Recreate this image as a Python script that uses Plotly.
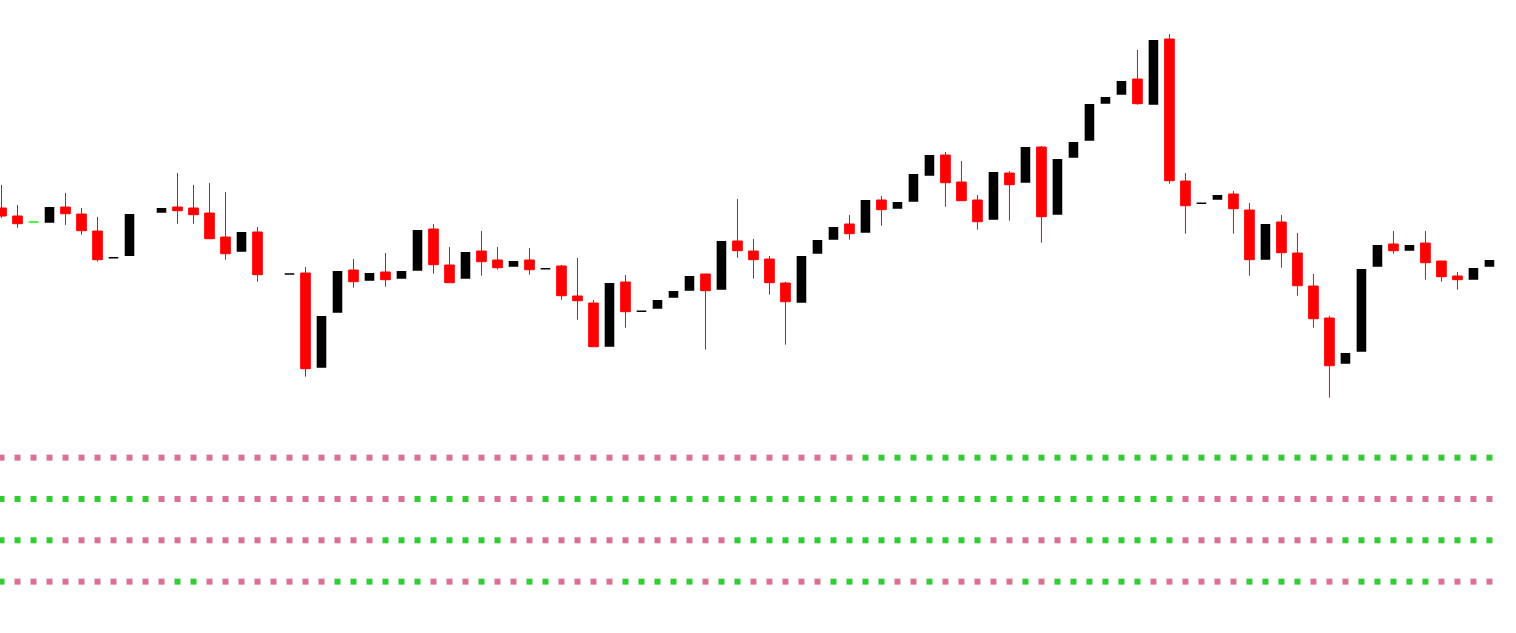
import plotly.graph_objects as go

# bar index and OHLC (None = empty slot)
bar_index = list(range(94))

opens = [
    792, 784, 778, 777.3, 793, 786, 769, 742.2, 744, None,
    787.3, 793, 792, 787, 763, 748.3, 768, None, 726, 727,
    632.3, 687.3, 730, 719.3, 728, 721.3, 729.3, 771, 735, 721.3,
    749, 740, 733.3, 740, 731.2, 734, 704, 697, 653.3, 718,
    688.7, 691.3, 702.3, 709.3, 726, 710.3, 759, 749, 741, 717,
    697.3, 746.3, 760.3, 776, 767.3, 800, 791.3, 798.3, 824.3, 845,
    818, 800, 780.3, 827, 817.3, 853, 785.3, 842.3, 859.3, 896.3,
    905.3, 921, 895.3, 961, 819, 796.7, 800.3, 806, 790, 740.3,
    778, 747, 714, 682, 636.3, 648.3, 733.3, 756, 749.3, 757,
    739, 724, 720.3, 733.3,
]
highs = [
    815, 795, 778, 793, 807, 792, 783, 742.2, 786, None,
    792, 827, 815, 817, 808, 768, 773, None, 726, 733,
    684, 729, 741, 727, 747, 729, 770, 776, 753, 748,
    769, 753, 739, 752, 731.2, 735, 742, 700, 717, 725,
    688.7, 700, 709, 724, 726, 759, 801, 761, 744, 718.3,
    744, 760, 773, 785, 800, 804, 798, 826, 845, 848,
    839, 805, 828, 829, 853, 854, 841, 858, 896, 903,
    919, 950, 960, 966, 827, 796.7, 805, 809, 797, 776,
    785, 767, 726, 684.3, 647, 731, 755, 769, 755, 769,
    739, 728, 732, 740,
]
lows = [
    782, 772.3, 778, 777.3, 775, 765.3, 738.3, 742.2, 744, None,
    787.3, 776.3, 776.3, 761.3, 740.3, 748.3, 718.3, None, 726, 623.3,
    632.3, 687.3, 712.3, 719.3, 713.3, 721.3, 729.3, 726.3, 717.3, 721.3,
    724.3, 730.3, 733.3, 725.3, 731.2, 700.3, 680.3, 653.3, 653.3, 672.3,
    688.7, 691.3, 702.3, 709.3, 650.3, 710.3, 742.3, 721.3, 705.3, 655.3,
    697.3, 746.3, 760.3, 760.3, 767.3, 774.3, 791.3, 798.3, 824.3, 793.3,
    799.3, 770.3, 780.3, 779.3, 817.3, 757.3, 785.3, 842.3, 859.3, 896.3,
    905.3, 895.3, 895.3, 816.3, 766.3, 796.7, 800.3, 766.3, 724.3, 740.3,
    732.3, 704.3, 672.3, 602.3, 636.3, 648.3, 733.3, 746.3, 749.3, 720.3,
    718.3, 710.3, 720.3, 733.3,
]
closes = [
    784, 776.3, 778, 793, 786.3, 769.3, 740.3, 742.2, 786, None,
    792, 789.3, 785.3, 761.3, 746.3, 768, 725.3, None, 726, 631.3,
    684, 729, 718.3, 727, 720.3, 729, 770, 735.3, 717.3, 748,
    738.3, 732.3, 739, 730.3, 731.2, 704.3, 699.3, 653.3, 717, 688.3,
    688.7, 700, 709, 724, 709.3, 759, 749.3, 740.3, 717.3, 698.3,
    744, 760, 773, 766.3, 800, 790.3, 798, 826, 845, 817.3,
    799.3, 778.3, 828, 815.3, 853, 783.3, 841, 858, 896, 903,
    919, 896.3, 960, 819.3, 794.3, 796.7, 805, 791.3, 740.3, 776,
    747.3, 714.3, 681.3, 634.3, 647, 731, 755, 749.3, 755, 737.3,
    723.3, 720.3, 732, 740,
]

# unchanged bar drawn in green
flat_bar = 2

# signal rows, top to bottom: 1 = bullish (green), 0 = bearish (pink)
signal_1 = [
    0, 0, 0, 0, 0, 0, 0, 0, 0, 0,  0, 0, 0, 0, 0, 0, 0, 0, 0, 0,
    0, 0, 0, 0, 0, 0, 0, 0, 0, 0,  0, 0, 0, 0, 0, 0, 0, 0, 0, 0,
    0, 0, 0, 0, 0, 0, 0, 0, 0, 0,  0, 0, 0, 0, 1, 1, 1, 1, 1, 1,
    1, 1, 1, 1, 1, 1, 1, 1, 1, 1,  1, 1, 1, 1, 1, 1, 1, 1, 1, 1,
    1, 1, 1, 1, 1, 1, 1, 1, 1, 1,  1, 1, 1, 1,
]
signal_2 = [
    1, 1, 1, 1, 1, 1, 1, 1, 1, 1,  0, 0, 0, 0, 0, 0, 0, 0, 0, 0,
    0, 0, 0, 0, 0, 0, 1, 1, 1, 1,  0, 0, 0, 0, 1, 1, 1, 1, 1, 1,
    1, 1, 1, 1, 1, 1, 1, 1, 1, 1,  1, 1, 1, 1, 1, 1, 1, 1, 1, 1,
    1, 1, 1, 1, 1, 1, 1, 1, 1, 1,  1, 1, 1, 1, 0, 0, 0, 0, 0, 0,
    0, 0, 0, 0, 0, 0, 0, 0, 0, 0,  0, 0, 0, 0,
]
signal_3 = [
    1, 1, 1, 1, 0, 0, 0, 0, 0, 0,  0, 0, 0, 0, 0, 0, 0, 0, 0, 0,
    0, 0, 0, 0, 1, 1, 1, 1, 1, 1,  1, 1, 0, 0, 0, 0, 0, 0, 0, 0,
    0, 0, 0, 0, 0, 0, 1, 1, 1, 1,  1, 1, 1, 1, 1, 1, 1, 1, 1, 1,
    1, 1, 0, 0, 0, 0, 0, 0, 1, 1,  1, 1, 1, 1, 0, 0, 0, 0, 0, 0,
    0, 0, 0, 0, 1, 1, 1, 1, 1, 1,  1, 1, 1, 1,
]
signal_4 = [
    1, 0, 0, 0, 0, 0, 0, 0, 0, 0,  0, 1, 1, 0, 0, 0, 0, 0, 0, 0,
    0, 1, 1, 1, 1, 1, 1, 0, 0, 0,  1, 0, 0, 1, 1, 0, 0, 0, 0, 1,
    1, 1, 1, 1, 0, 1, 1, 0, 0, 0,  0, 0, 1, 1, 1, 1, 0, 0, 1, 0,
    0, 0, 0, 0, 1, 0, 1, 1, 1, 1,  1, 1, 0, 0, 0, 0, 0, 0, 1, 1,
    1, 1, 0, 0, 0, 1, 1, 1, 1, 1,  0, 0, 0, 0,
]
signal_rows = [signal_1, signal_2, signal_3, signal_4]

BULL = '#32CD32'
BEAR = '#DB7093'


def pick(values, idx):
    return [values[i] if i in idx else None for i in bar_index]


valid = [i for i in bar_index if opens[i] is not None]
doji = [i for i in valid if opens[i] == closes[i] and i != flat_bar]
normal = [i for i in valid if opens[i] != closes[i]]

fig = go.Figure()

fig.add_trace(go.Candlestick(
    x=bar_index,
    open=pick(opens, normal), high=pick(highs, normal),
    low=pick(lows, normal), close=pick(closes, normal),
    increasing=dict(line=dict(color='black', width=0), fillcolor='black'),
    decreasing=dict(line=dict(color='#FF0000', width=1), fillcolor='#FF0000'),
    hoverinfo='skip',
))

# open == close bars
fig.add_trace(go.Candlestick(
    x=bar_index,
    open=pick(opens, doji), high=pick(highs, doji),
    low=pick(lows, doji), close=pick(closes, doji),
    increasing=dict(line=dict(color='black', width=1.6), fillcolor='black'),
    decreasing=dict(line=dict(color='black', width=1.6), fillcolor='black'),
    hoverinfo='skip',
))
fig.add_trace(go.Candlestick(
    x=bar_index,
    open=pick(opens, [flat_bar]), high=pick(highs, [flat_bar]),
    low=pick(lows, [flat_bar]), close=pick(closes, [flat_bar]),
    increasing=dict(line=dict(color='#00FF00', width=1.6), fillcolor='#00FF00'),
    decreasing=dict(line=dict(color='#00FF00', width=1.6), fillcolor='#00FF00'),
    hoverinfo='skip',
))

# signal dot rows on their own axis (row 4 at top ... row 1 at bottom)
for k, row in enumerate(signal_rows):
    level = 4 - k
    fig.add_trace(go.Scatter(
        x=bar_index,
        y=[level] * len(bar_index),
        mode='markers',
        marker=dict(symbol='square', size=6,
                    color=[BULL if s else BEAR for s in row],
                    line=dict(width=0)),
        yaxis='y2',
        hoverinfo='skip',
    ))

fig.update_layout(
    width=1516,
    height=633,
    margin=dict(l=0, r=0, t=0, b=0),
    paper_bgcolor='white',
    plot_bgcolor='white',
    showlegend=False,
    boxgap=0.4,
    boxgroupgap=0,
    xaxis=dict(visible=False, range=[-0.094, 94.66],
               rangeslider=dict(visible=False)),
    yaxis=dict(visible=False, range=[367, 1000]),
    yaxis2=dict(visible=False, range=[-0.242, 15.07],
                overlaying='y'),
)

fig.write_html("out.html", config={'displayModeBar': False},
               post_script="document.body.style.margin='0';")
